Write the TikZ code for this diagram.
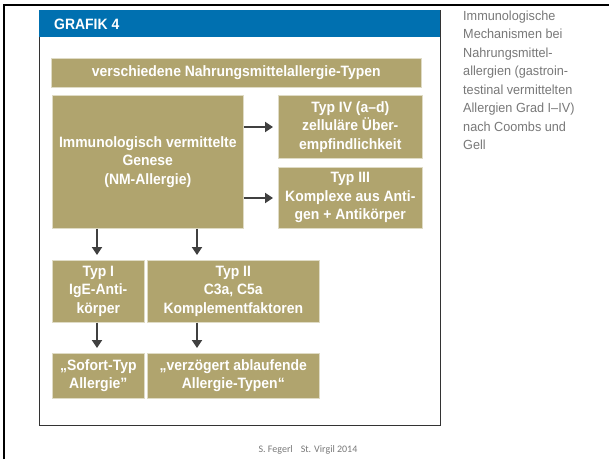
\documentclass[tikz,border=0pt]{standalone}
\usepackage{fontspec}
\setmainfont{Liberation Sans}
\newfontfamily\cond[FakeStretch=0.93]{Liberation Sans}
\newfontfamily\capfont[FakeStretch=0.96]{Liberation Sans}
\newfontfamily\foot{Carlito}
\usetikzlibrary{arrows.meta}
\definecolor{gold}{RGB}{176,164,110}
\definecolor{hblue}{RGB}{0,112,176}
\definecolor{arrgray}{RGB}{64,64,64}
\definecolor{sidegray}{RGB}{120,120,120}
\tikzset{
  box/.style={fill=gold, draw=gold!40!white, line width=0.6pt, text=white, font=\cond\bfseries\fontsize{15}{18.5}\selectfont, align=center, inner sep=0pt, anchor=north west},
  arr/.style={draw=arrgray, line width=2.6pt, -{Triangle[length=8pt,width=10pt]}},
}
\begin{document}
\begin{tikzpicture}[x=1pt,y=-1pt]
\useasboundingbox (0,0) rectangle (609,459);
% slide border
\draw[line width=2pt, black] (4,459) -- (4,5) -- (609,5);
% figure frame
\draw[draw=black!80, line width=0.8pt] (39,10) rectangle (440,425);
\fill[hblue] (39,10) rectangle (440,37);
\node[anchor=west, text=white, font=\cond\bfseries\fontsize{15}{18}\selectfont, inner sep=0pt] (title) at (54,24) {GRAFIK 4};
% boxes
\node[box, minimum width=370pt, minimum height=29pt] (banner) at (51,58) {verschiedene Nahrungsmittelallergie-Typen};
\node[box, minimum width=191pt, minimum height=133pt] (big) at (52,95) {Immunologisch vermittelte\\Genese\\(NM-Allergie)};
\node[box, minimum width=144pt, minimum height=63pt] (t4) at (278,95) {Typ IV (a–d)\\zelluläre Über-\\empfindlichkeit};
\node[box, minimum width=144pt, minimum height=61pt] (t3) at (278,167) {Typ III\\Komplexe aus Anti-\\gen + Antikörper};
\node[box, minimum width=92pt, minimum height=62pt] (t1) at (52,260) {Typ I\\IgE-Anti-\\körper};
\node[box, minimum width=172pt, minimum height=62pt] (t2) at (147,260) {Typ II\\C3a, C5a\\Komplementfaktoren};
\node[box, minimum width=92pt, minimum height=45pt] (b1) at (52,353) {„Sofort-Typ\\Allergie”};
\node[box, minimum width=172pt, minimum height=45pt] (b2) at (147,353) {„verzögert ablaufende\\Allergie-Typen“};
% arrows
\coordinate (c4) at (0,127);
\coordinate (c3) at (0,198);
\coordinate (cx1) at (97,0);
\coordinate (cx2) at (197,0);
\draw[arr] (big.east |- c4) -- ([xshift=-5pt]t4.west |- c4);
\draw[arr] (big.east |- c3) -- ([xshift=-5pt]t3.west |- c3);
\draw[arr] (big.south -| cx1) -- ([yshift=5pt]t1.north -| cx1);
\draw[arr] (big.south -| cx2) -- ([yshift=5pt]t2.north -| cx2);
\draw[arr] (t1.south -| cx1) -- ([yshift=5pt]b1.north -| cx1);
\draw[arr] (t2.south -| cx2) -- ([yshift=5pt]b2.north -| cx2);
% side caption
\node[anchor=north west, inner sep=0pt, align=left, text=sidegray, font=\capfont\fontsize{13.2}{18.5}\selectfont] (caption) at (463,10.5) {Immunologische\\Mechanismen bei\\Nahrungsmittel-\\allergien (gastroin-\\testinal vermittelten\\Allergien Grad I–IV)\\nach Coombs und\\Gell};
% footer
\node[text=sidegray, font=\foot\fontsize{10}{12}\selectfont, inner sep=0pt] (footer) at (308,450) {S. Fegerl\hspace{8pt}St. Virgil 2014};
\end{tikzpicture}
\end{document}
